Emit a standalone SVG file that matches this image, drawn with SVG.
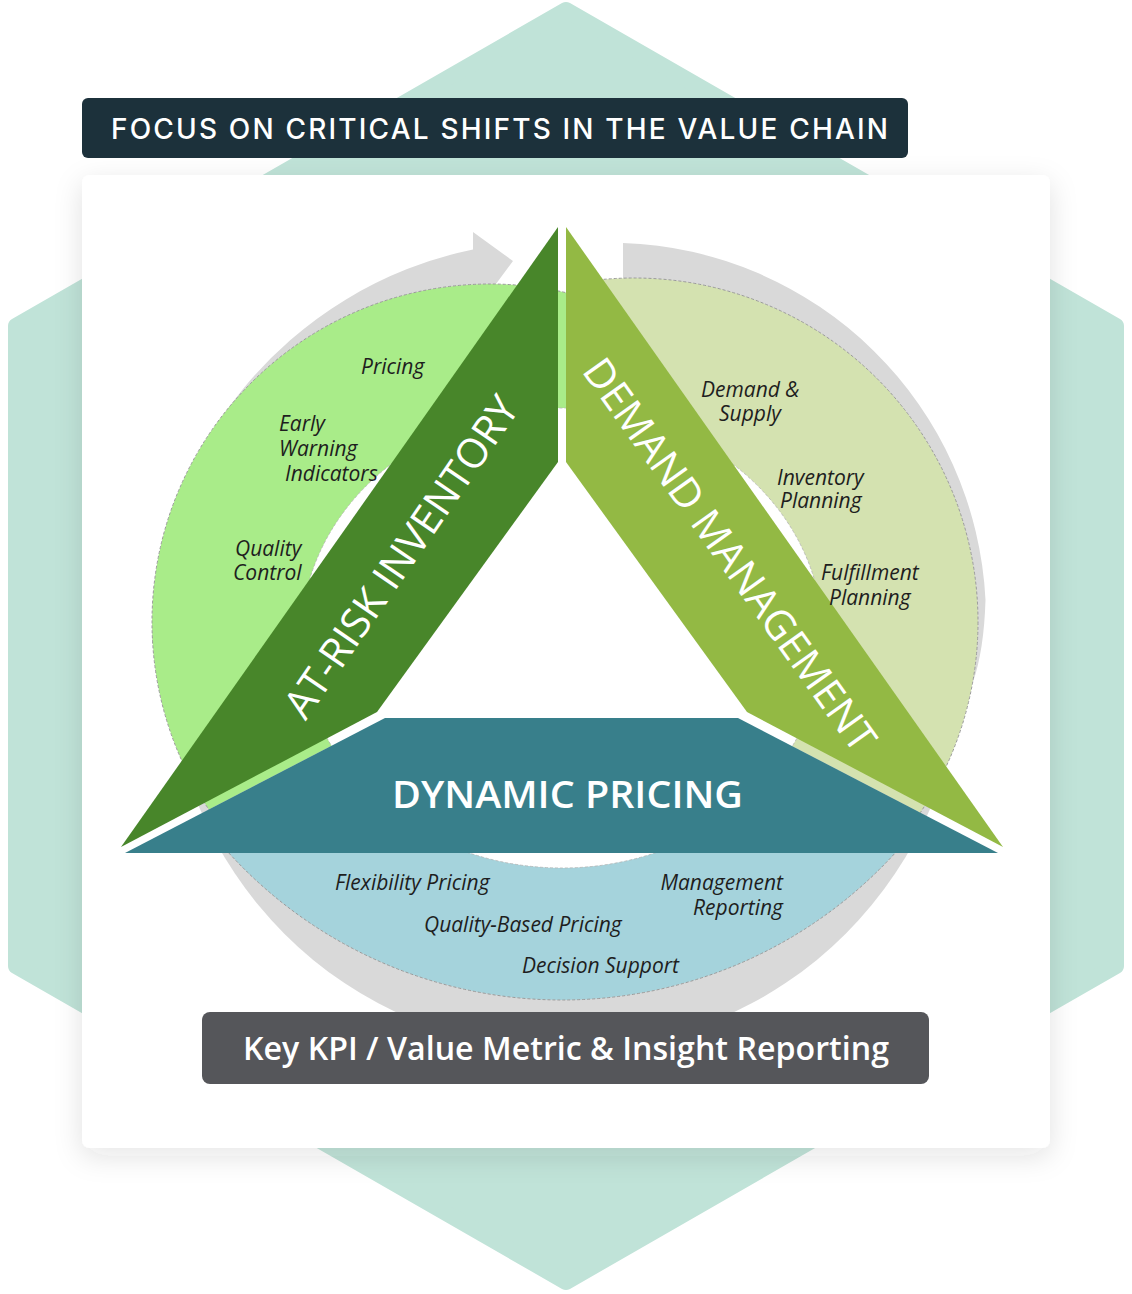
<svg xmlns="http://www.w3.org/2000/svg" width="1132" height="1294" viewBox="0 0 1132 1294">
<defs>
<filter id="shadow" x="-10%" y="-10%" width="120%" height="120%"><feDropShadow dx="0" dy="8" stdDeviation="14" flood-color="#2a3b3a" flood-opacity="0.12"/></filter>
<clipPath id="clipGreen"><polygon points="0,0 570,0 570,718 385,718 125,853 0,853"/></clipPath>
<clipPath id="clipOlive"><polygon points="566,0 1132,0 1132,853 998,853 738,718 566,718"/></clipPath>
<clipPath id="clipBlue"><rect x="0" y="840" width="1132" height="300"/></clipPath>
<clipPath id="clipGrayB"><rect x="0" y="690" width="1132" height="500"/></clipPath>
</defs>
<style>
.gray{fill:#d9d9d9}
.seg{stroke:#9b9b9b;stroke-width:1;stroke-dasharray:3 2}
.item{font-family:"Open Sans","Liberation Sans",sans-serif;font-style:italic;font-size:21px;fill:#1e1e1e}
.band{font-family:"Open Sans","Liberation Sans",sans-serif;font-size:41px;fill:#ffffff}
</style>
<g id="background">
<polygon points="566,10 1116,326 1116,966 566,1282 16,966 16,326" fill="#c0e3d8" stroke="#c0e3d8" stroke-width="16" stroke-linejoin="round"/>
</g>
<g id="card">
<rect x="82" y="175" width="968" height="973" rx="8" fill="#ffffff" filter="url(#shadow)"/>
</g>
<g id="title">
<rect x="82" y="98" width="826" height="60" rx="6" fill="#1c313b"/>
<text x="111" y="139" font-family="Inter,'Liberation Sans',sans-serif" font-size="28" font-weight="500" fill="#ffffff" textLength="777" lengthAdjust="spacing">FOCUS ON CRITICAL SHIFTS IN THE VALUE CHAIN</text>
</g>
<g id="connectors">
<circle cx="565" cy="653" r="397" class="gray" clip-path="url(#clipGrayB)"/>
<path class="gray" d="M152 644 A403 403 0 0 1 473 249.4 L473 232 L513 261 L490 292 L480 320 L300 420 L200 644 Z"/>
<path class="gray" d="M623 281 L623 243 A376 376 0 0 1 985.5 600 Q984 650 973 682 L940 690 L900 450 L640 300 Z"/>
</g>
<g id="ring">
<circle id="seg-green" cx="490" cy="622" r="338" fill="#a9ec89" class="seg" clip-path="url(#clipGreen)"/>
<circle id="seg-olive" cx="634" cy="622" r="344" fill="#d4e2b0" class="seg" clip-path="url(#clipOlive)"/>
<circle id="seg-blue" cx="562" cy="549" r="451" fill="#a5d3dc" class="seg" clip-path="url(#clipBlue)"/>
<ellipse cx="562" cy="638" rx="261" ry="230" fill="#ffffff" stroke="#b5b5b5" stroke-width="0.8" stroke-dasharray="3 2"/>
</g>
<g id="at-risk-inventory">
<polygon points="558,227 558,462 377,712 121,847" fill="#48862a"/>
<text class="band" text-anchor="middle" transform="translate(413,565) rotate(-55.5)">AT-RISK INVENTORY</text>
<text class="item" x="361" y="374">Pricing</text>
<text class="item"><tspan x="279" y="431">Early</tspan><tspan x="279" y="456">Warning</tspan><tspan x="285" y="481">Indicators</tspan></text>
<text class="item"><tspan x="235" y="556">Quality</tspan><tspan x="233" y="580">Control</tspan></text>
</g>
<g id="demand-management">
<polygon points="566,227 566,462 747,712 1003,847" fill="#93b944"/>
<text class="band" text-anchor="middle" transform="translate(718,563) rotate(54.5)">DEMAND MANAGEMENT</text>
<text class="item"><tspan x="701" y="397">Demand &amp;</tspan><tspan x="719" y="421">Supply</tspan></text>
<text class="item"><tspan x="777" y="485">Inventory</tspan><tspan x="780" y="508">Planning</tspan></text>
<text class="item"><tspan x="821" y="580">Fulfillment</tspan><tspan x="829" y="605">Planning</tspan></text>
</g>
<g id="dynamic-pricing">
<polygon points="385,718 738,718 998,853 125,853" fill="#387f8b"/>
<text x="567.5" y="808" text-anchor="middle" font-family="'Open Sans','Liberation Sans',sans-serif" font-size="38" font-weight="600" fill="#ffffff" textLength="351" lengthAdjust="spacingAndGlyphs">DYNAMIC PRICING</text>
<text class="item" x="335" y="890">Flexibility Pricing</text>
<text class="item" x="424" y="932">Quality-Based Pricing</text>
<text class="item" x="522" y="973">Decision Support</text>
<text class="item" text-anchor="end"><tspan x="783" y="890">Management</tspan><tspan x="783" y="915">Reporting</tspan></text>
</g>
<g id="kpi">
<rect x="202" y="1012" width="727" height="72" rx="8" fill="#55565a"/>
<text x="566" y="1060" text-anchor="middle" font-family="'Open Sans','Liberation Sans',sans-serif" font-size="32" font-weight="600" fill="#ffffff" textLength="646" lengthAdjust="spacingAndGlyphs">Key KPI / Value Metric &amp; Insight Reporting</text>
</g>
</svg>
